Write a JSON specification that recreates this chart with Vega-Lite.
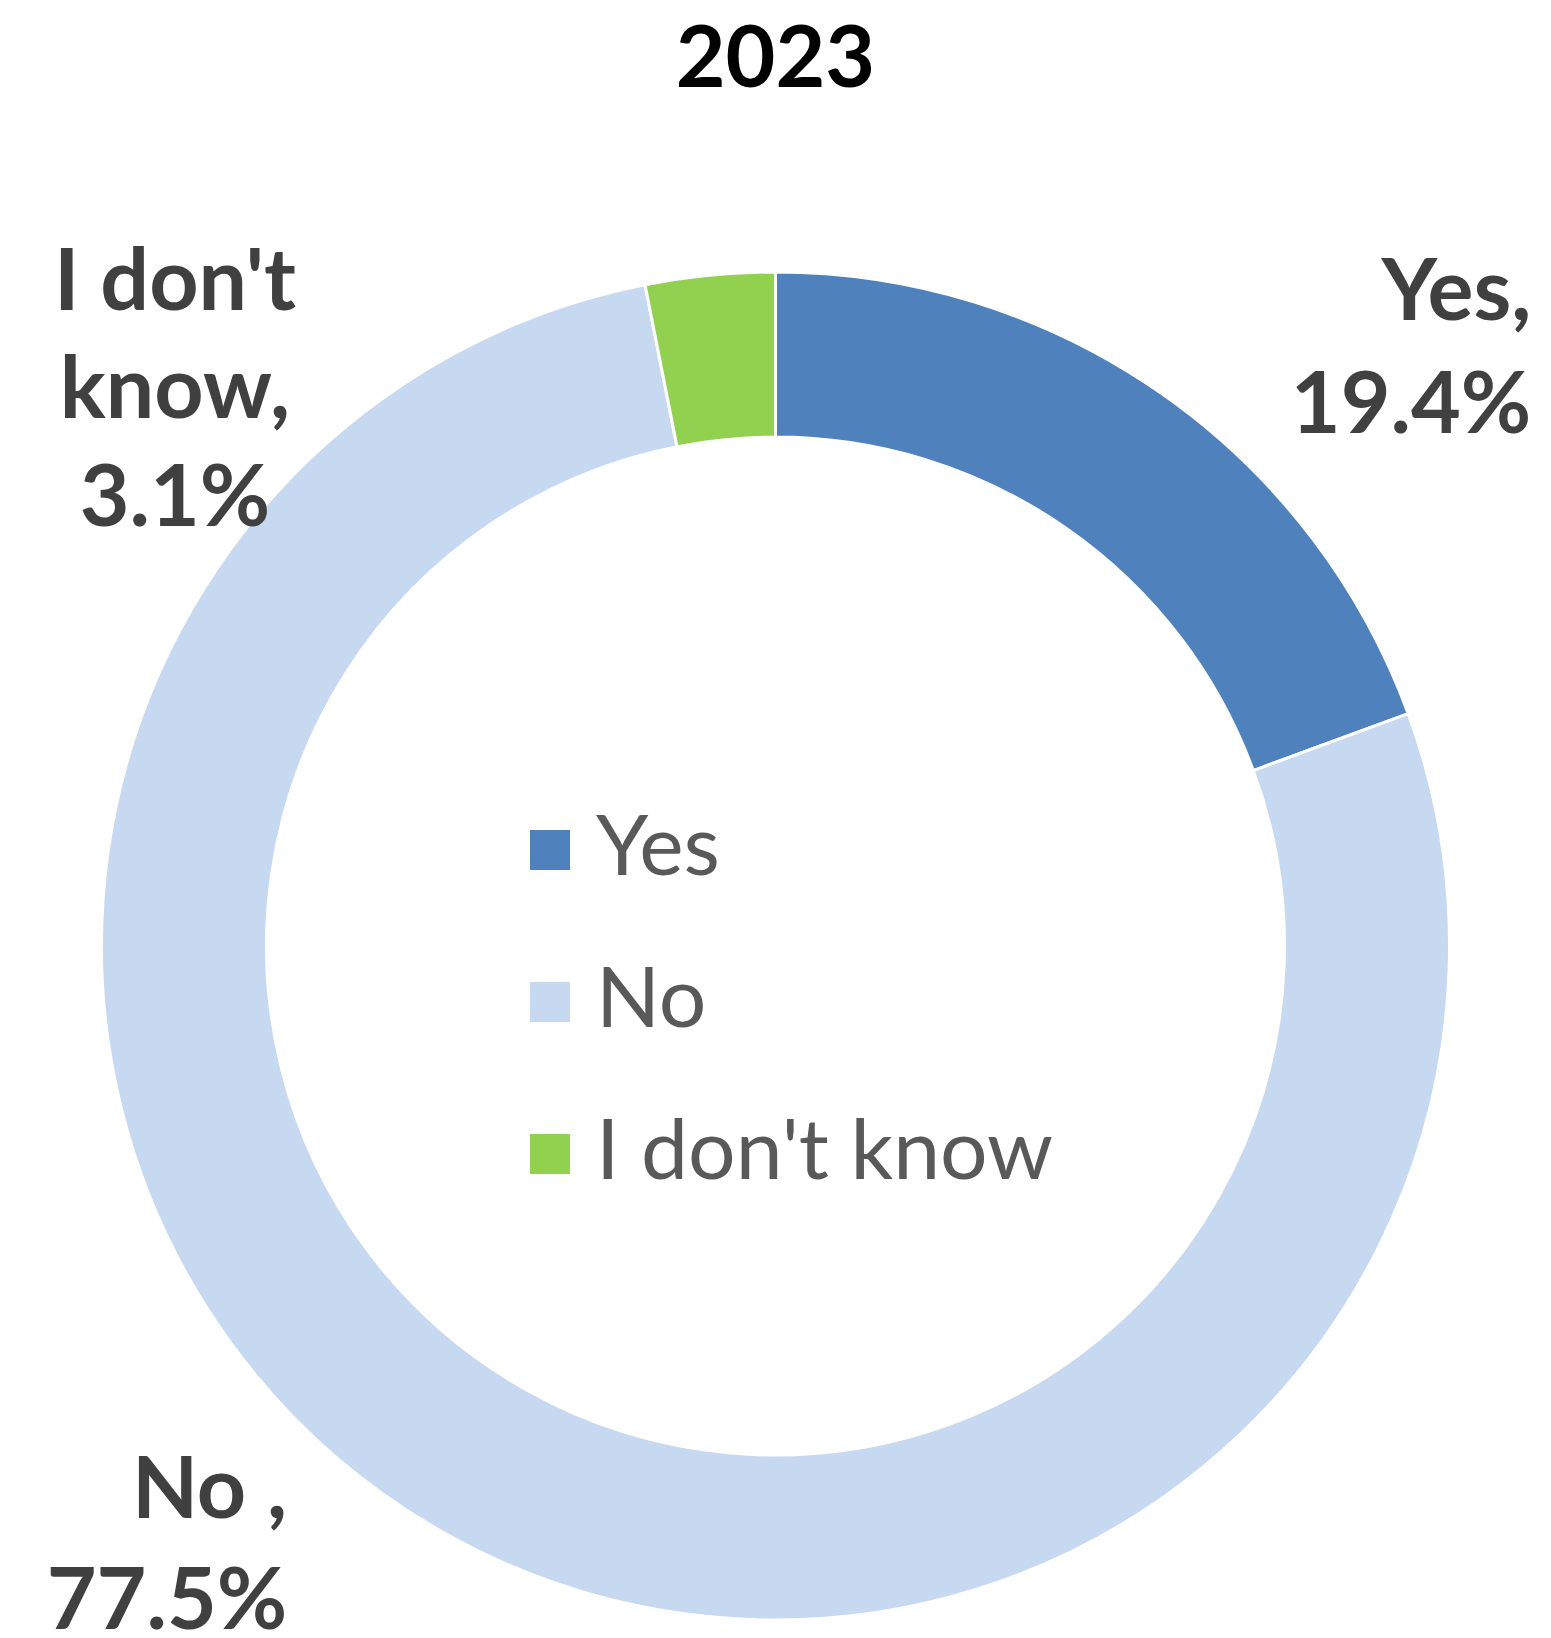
{
  "$schema": "https://vega.github.io/schema/vega-lite/v6.json",
  "width": 1551,
  "height": 1348,
  "autosize": {"type": "none"},
  "padding": {"top": 272, "left": 0, "right": 0, "bottom": 18},
  "background": "white",
  "title": {"text": "2023", "fontSize": 86, "font": "Lato", "fontWeight": "bold", "color": "#000000", "anchor": "middle", "offset": 28},
  "data": {
    "values": [
      {"answer": "Yes", "pct": 19.4, "order": 1, "label": "Yes,\n19.4%"},
      {"answer": "No", "pct": 77.5, "order": 2, "label": "No ,\n77.5%"},
      {"answer": "I don't know", "pct": 3.1, "order": 3, "label": "I don't\nknow,\n3.1%"}
    ]
  },
  "encoding": {
    "theta": {"field": "pct", "type": "quantitative", "stack": true},
    "order": {"field": "order", "type": "ordinal"}
  },
  "layer": [
    {
      "mark": {"type": "arc", "outerRadius": 674, "innerRadius": 509, "stroke": "white", "strokeWidth": 3},
      "encoding": {
        "color": {
          "field": "answer",
          "type": "nominal",
          "scale": {"domain": ["Yes", "No", "I don't know"], "range": ["#4F81BD", "#C6D9F0", "#92D050"]},
          "legend": {
            "title": null,
            "orient": "none",
            "legendX": 508,
            "legendY": 536,
            "padding": 0,
            "symbolType": "square",
            "symbolSize": 1600,
            "symbolStrokeWidth": 0,
            "labelFontSize": 84,
            "labelFont": "Lato",
            "labelColor": "#595959",
            "labelOffset": 4,
            "rowPadding": 68,
            "labelLimit": 0
          }
        }
      }
    },
    {
      "mark": {"type": "text", "radius": 674, "font": "Lato", "fontWeight": "bold", "fontSize": 86, "color": "#404040", "align": "right", "baseline": "alphabetic", "lineBreak": "\n", "lineHeight": 113, "dx": 370, "dy": -73},
      "encoding": {
        "detail": {"field": "answer"},
        "text": {"condition": {"test": "datum.answer === 'Yes'", "field": "label"}, "value": ""}
      }
    },
    {
      "mark": {"type": "text", "radius": 674, "font": "Lato", "fontWeight": "bold", "fontSize": 86, "color": "#404040", "align": "right", "baseline": "alphabetic", "lineBreak": "\n", "lineHeight": 111, "dx": -158, "dy": -16},
      "encoding": {
        "detail": {"field": "answer"},
        "text": {"condition": {"test": "datum.answer === 'No'", "field": "label"}, "value": ""}
      }
    },
    {
      "mark": {"type": "text", "radius": 674, "font": "Lato", "fontWeight": "bold", "fontSize": 86, "color": "#404040", "align": "center", "baseline": "alphabetic", "lineBreak": "\n", "lineHeight": 108, "dx": -535, "dy": 35},
      "encoding": {
        "detail": {"field": "answer"},
        "text": {"condition": {"test": "datum.answer === \"I don't know\"", "field": "label"}, "value": ""}
      }
    }
  ],
  "config": {"view": {"stroke": null}}
}
